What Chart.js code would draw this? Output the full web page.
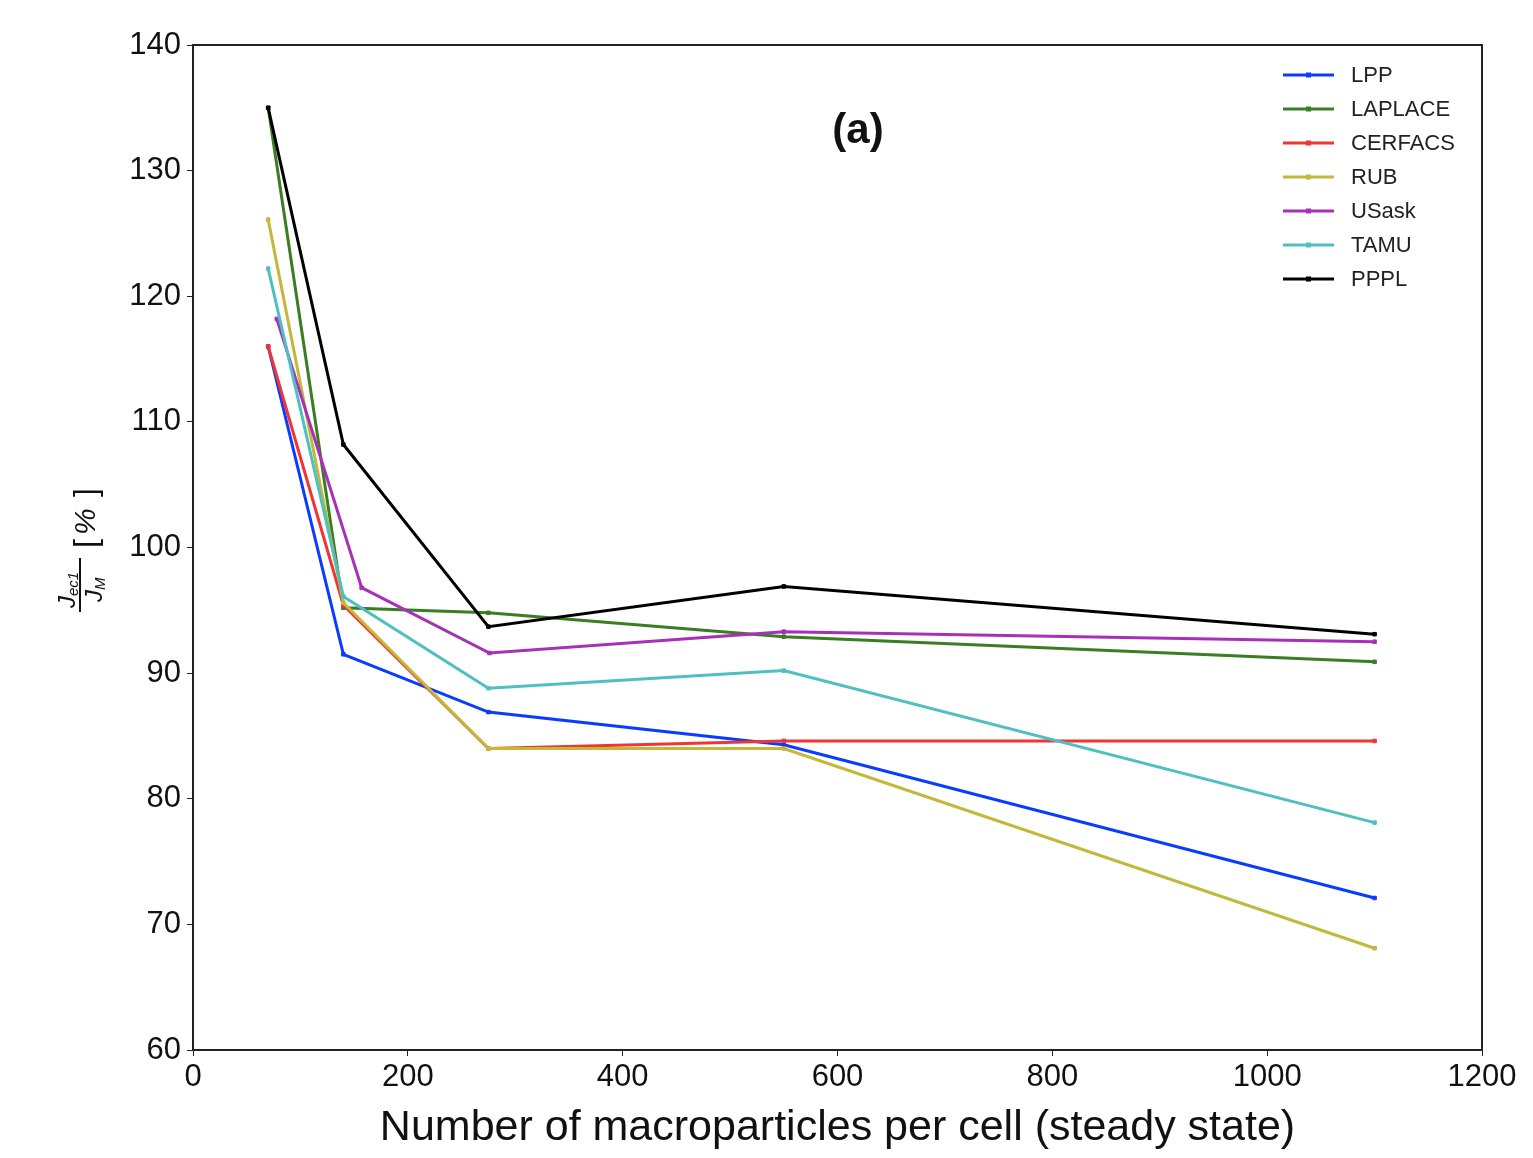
<!DOCTYPE html>
<html><head><meta charset="utf-8">
<script src="https://cdn.jsdelivr.net/npm/chart.js@4/dist/chart.umd.min.js"></script>
<style>html,body{margin:0;padding:0;background:#fff;} #wrap{width:1533px;height:1158px;position:relative;}</style>
</head><body><div id="wrap"><canvas id="c" width="1533" height="1158"></canvas></div>
<script>
const seriesNames = ['LPP','LAPLACE','CERFACS','RUB','USask','TAMU','PPPL'];
const seriesColors = ['#0a3cff','#3a7d22','#f03535','#c4b83a','#a830b8','#4fbfc0','#000000'];
const xCommon = [70,140,275,550,1100];
const xUSask = [78,157,276,550,1100];
const lppVals     = [116.0, 91.5, 86.9, 84.3, 72.1];
const laplaceVals = [135.0, 95.2, 94.8, 92.9, 90.9];
const cerfacsVals = [116.0, 95.4, 84.0, 84.6, 84.6];
const rubVals     = [126.1, 95.6, 84.0, 84.0, 68.1];
const usaskVals   = [118.2, 96.8, 91.6, 93.3, 92.5];
const tamuVals    = [122.2, 96.1, 88.8, 90.2, 78.1];
const ppplVals    = [135.0, 108.2, 93.7, 96.9, 93.1];
const xTicksMin = 0, xTicksMax = 1200, xStep = 200;
const yTicksMin = 60, yTicksMax = 140, yStep = 10;
const xTitle = 'Number of macroparticles per cell (steady state)';
const panelLabel = '(a)';

const allVals = [lppVals, laplaceVals, cerfacsVals, rubVals, usaskVals, tamuVals, ppplVals];
const allX = [xCommon, xCommon, xCommon, xCommon, xUSask, xCommon, xCommon];
const FONT = '"Liberation Sans", Arial, Helvetica, sans-serif';

const datasets = seriesNames.map((n, i) => ({
  label: n,
  data: allVals[i].map((v, k) => ({x: allX[i][k], y: v})),
  borderColor: seriesColors[i],
  backgroundColor: seriesColors[i],
  borderWidth: 3,
  pointStyle: 'rect',
  pointRadius: 2.5,
  pointBorderWidth: 1,
  tension: 0,
  fill: false,
  order: seriesNames.length - i
}));

const framePlugin = {
  id: 'frame',
  afterDraw(chart) {
    const {ctx, chartArea: a} = chart;
    ctx.save();
    ctx.strokeStyle = '#222';
    ctx.lineWidth = 2;
    ctx.strokeRect(a.left, a.top, a.right - a.left, a.bottom - a.top);
    // panel label
    ctx.fillStyle = '#111';
    ctx.font = 'bold 42px ' + FONT;
    ctx.textAlign = 'center';
    ctx.textBaseline = 'middle';
    ctx.fillText(panelLabel, 858, 131);
    // legend
    ctx.font = '22px ' + FONT;
    ctx.textAlign = 'left';
    seriesNames.forEach((n, i) => {
      const y = 75 + i * 34;
      ctx.strokeStyle = seriesColors[i];
      ctx.lineWidth = 3;
      ctx.beginPath(); ctx.moveTo(1283, y); ctx.lineTo(1334, y); ctx.stroke();
      ctx.fillStyle = seriesColors[i];
      ctx.fillRect(1306, y - 2.5, 5, 5);
      ctx.fillStyle = '#222';
      ctx.fillText(n, 1351, y + 1);
    });
    // y axis title: J_ec1 / J_M [%]
    ctx.translate(80, 548);
    ctx.rotate(-Math.PI / 2);
    ctx.fillStyle = '#111';
    ctx.strokeStyle = '#111';
    ctx.textBaseline = 'alphabetic';
    ctx.lineWidth = 2;
    ctx.beginPath(); ctx.moveTo(-64, 0); ctx.lineTo(-10, 0); ctx.stroke();
    ctx.font = 'italic 24px ' + FONT;
    ctx.textAlign = 'left';
    ctx.fillText('J', -60, -5);
    ctx.font = 'italic 15px ' + FONT;
    ctx.fillText('ec1', -48, -2);
    ctx.font = 'italic 24px ' + FONT;
    ctx.fillText('J', -54, 22);
    ctx.font = 'italic 15px ' + FONT;
    ctx.fillText('M', -42, 25);
    ctx.font = '32px ' + FONT;
    ctx.fillText('[', 0, 16);
    ctx.font = 'italic 30px ' + FONT;
    ctx.fillText('%', 13, 15);
    ctx.font = '32px ' + FONT;
    ctx.fillText(']', 51, 16);
    ctx.restore();
  }
};

new Chart(document.getElementById('c'), {
  type: 'line',
  data: {datasets},
  options: {
    responsive: false,
    animation: false,
    devicePixelRatio: 1,
    layout: {padding: {left: 0, top: 45, right: 51, bottom: 0}},
    plugins: {legend: {display: false}, tooltip: {enabled: false}},
    scales: {
      x: {
        type: 'linear', min: xTicksMin, max: xTicksMax,
        ticks: {stepSize: xStep, font: {size: 31, family: FONT}, color: '#111', padding: 3, maxRotation: 0,
                callback: v => String(v)},
        grid: {drawOnChartArea: false, drawTicks: true, tickLength: 6, color: '#222'},
        border: {display: true, color: '#222', width: 2},
        title: {display: true, text: xTitle, font: {size: 43, family: FONT}, color: '#111', padding: {top: 0, bottom: 4}},
        afterFit(s) { s.height = 108; }
      },
      y: {
        type: 'linear', min: yTicksMin, max: yTicksMax,
        ticks: {stepSize: yStep, font: {size: 31, family: FONT}, color: '#111', padding: 6,
                callback: v => String(v)},
        grid: {drawOnChartArea: false, drawTicks: true, tickLength: 6, color: '#222'},
        border: {display: true, color: '#222', width: 2},
        afterFit(s) { s.width = 193; }
      }
    }
  },
  plugins: [framePlugin]
});
</script>
</body></html>
